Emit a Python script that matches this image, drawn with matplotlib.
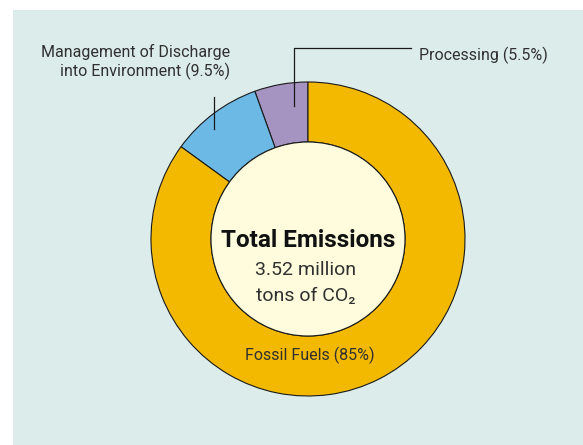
import matplotlib.pyplot as plt
import matplotlib
from matplotlib.patches import Rectangle, Circle

matplotlib.rcParams['font.family'] = ['Roboto', 'DejaVu Sans']

# emission shares, drawn counter-clockwise from 12 o'clock
sources = ['Processing', 'Management of Discharge\ninto Environment', 'Fossil Fuels']
shares = [5.5, 9.5, 85]
colors = ['#a593c2', '#6cb9e6', '#f2b900']
total_emissions = 3.52  # million tons of CO2

W, H = 583, 445
CX, CY, R = 308, 239, 157   # donut centre and outer radius in pixels
hole = 97 / 157             # inner radius relative to outer

text_color = '#303030'
panel_color = '#dcecea'
cream = '#fefcdc'


def px(x, y):
    # pixel position (from top-left) to data units of the pie axes
    return (x - CX) / R, (CY - y) / R


fig = plt.figure(figsize=(W / 100, H / 100), dpi=100)
fig.patch.set_facecolor('white')
fig.patches.append(Rectangle((13 / W, 0), 1, (H - 10) / H, transform=fig.transFigure,
                             facecolor=panel_color, edgecolor='none', zorder=-1))

ax = fig.add_axes([0, 0, 1, 1])
ax.patch.set_alpha(0)

ax.pie(shares, colors=colors, startangle=90, counterclock=True, radius=1,
       wedgeprops=dict(width=1 - hole, edgecolor='#1a1a1a', linewidth=0.8))
ax.add_patch(Circle((0, 0), hole, facecolor=cream, edgecolor='#1a1a1a', linewidth=0.8, zorder=3))

ax.set_aspect('auto')
ax.set_xlim(-CX / R, (W - CX) / R)
ax.set_ylim(-(H - CY) / R, CY / R)
ax.axis('off')

# leader lines
xs, ys = zip(px(294, 106), px(294, 48), px(411, 48))
ax.plot(xs, ys, color='#1a1a1a', lw=0.9, zorder=4)
xs, ys = zip(px(214, 97), px(214, 129))
ax.plot(xs, ys, color='#1a1a1a', lw=0.9, zorder=4)

# labels
ax.text(*px(419, 55), f'{sources[0]} ({shares[0]}%)', ha='left', va='center',
        fontsize=11.5, color=text_color)
ax.text(*px(230, 62), f'{sources[1]} ({shares[1]}%)', ha='right', va='center',
        fontsize=11.5, color=text_color, multialignment='right', linespacing=1.2)
ax.text(*px(310, 355), f'{sources[2]} ({shares[2]}%)', ha='center', va='center',
        fontsize=11.5, color=text_color, zorder=5)

# centre caption
ax.text(*px(308, 240), 'Total Emissions', ha='center', va='center',
        fontsize=17.5, fontweight='bold', color='#111111', zorder=5)
ax.text(*px(306, 270), f'{total_emissions} million', ha='center', va='center',
        fontsize=14, color=text_color, zorder=5)
ax.text(*px(306, 296), 'tons of CO\u2082', ha='center', va='center',
        fontsize=14, color=text_color, zorder=5)

plt.savefig('out.png', dpi=100)
